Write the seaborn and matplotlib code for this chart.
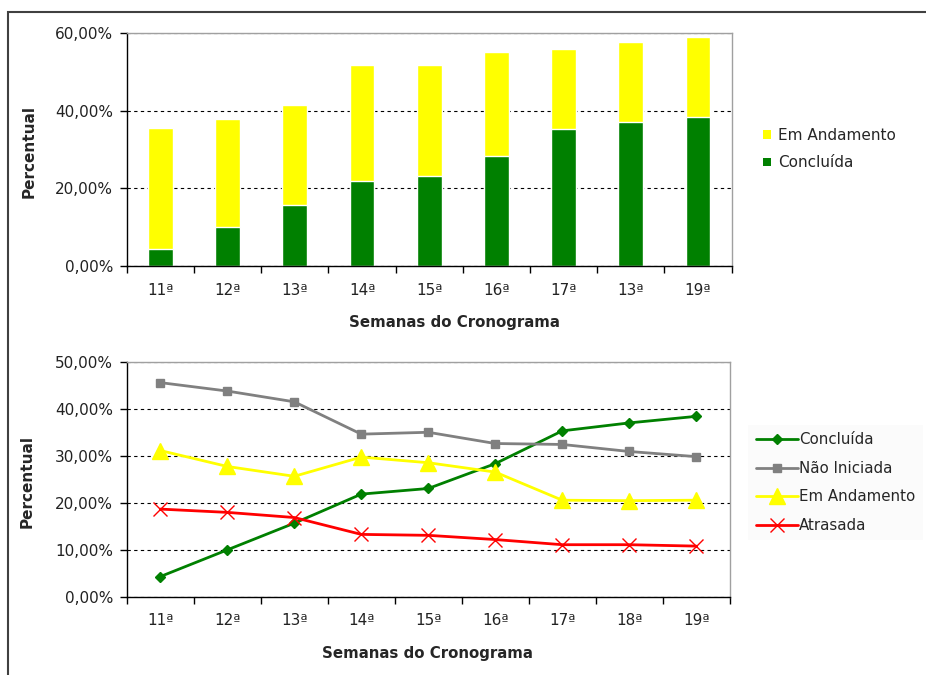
import numpy as np
import matplotlib
matplotlib.use("Agg")
import matplotlib.pyplot as plt
from matplotlib.patches import Patch, Rectangle
from matplotlib.ticker import FuncFormatter, MultipleLocator
import seaborn as sns

# dados (percentuais por semana)
semanas_barras = ["11ª", "12ª", "13ª", "14ª", "15ª", "16ª", "17ª", "13ª", "19ª"]
semanas_linhas = ["11ª", "12ª", "13ª", "14ª", "15ª", "16ª", "17ª", "18ª", "19ª"]

concluida = [4.3, 10.0, 15.7, 21.9, 23.1, 28.4, 35.4, 37.1, 38.5]
nao_iniciada = [45.7, 43.9, 41.6, 34.7, 35.1, 32.7, 32.5, 31.0, 29.9]
em_andamento = [31.2, 27.8, 25.7, 29.8, 28.6, 26.6, 20.6, 20.5, 20.6]
atrasada = [18.7, 18.0, 16.9, 13.3, 13.1, 12.2, 11.1, 11.1, 10.8]

sns.set_style("white")
plt.rcParams["font.family"] = ["DejaVu Sans"]

VERDE = "#008000"
AMARELO = "#FFFF00"
CINZA = "#808080"
VERMELHO = "#FF0000"

pos = np.arange(len(semanas_linhas))
pct = FuncFormatter(lambda v, p: ("%.2f%%" % v).replace(".", ","))

fig = plt.figure(figsize=(9.26, 6.75), dpi=100)
ax1 = fig.add_axes([0.137, 0.606, 0.653, 0.345])
ax2 = fig.add_axes([0.137, 0.116, 0.651, 0.347])

# moldura externa
fig.add_artist(Rectangle((8 / 926, -0.2), 2, 1 - 12.5 / 675 + 0.2, transform=fig.transFigure,
                         fill=False, ec="#404040", lw=1.5, clip_on=False))

# grafico de barras empilhadas
total = np.array(concluida) + np.array(em_andamento)
sns.barplot(x=pos, y=total, color=AMARELO, saturation=1, width=0.37,
            edgecolor="white", linewidth=1, ax=ax1)
sns.barplot(x=pos, y=concluida, color=VERDE, saturation=1, width=0.37,
            edgecolor="white", linewidth=1, ax=ax1)
ax1.set_ylim(0, 60)
ax1.yaxis.set_major_locator(MultipleLocator(20))

# grafico de linhas
series = [
    ("Concluída", concluida, VERDE, "D", 5, 2),
    ("Não Iniciada", nao_iniciada, CINZA, "s", 6, 2),
    ("Em Andamento", em_andamento, AMARELO, "^", 11, 2),
    ("Atrasada", atrasada, VERMELHO, "x", 10, 2),
]
for nome, vals, cor, mk, ms, lw in series:
    sns.lineplot(x=pos, y=vals, color=cor, marker=mk, markersize=ms, linewidth=lw,
                 markeredgecolor=cor, markerfacecolor=cor, markeredgewidth=1,
                 label=nome, ax=ax2)
ax2.set_ylim(0, 50)
ax2.yaxis.set_major_locator(MultipleLocator(10))

for ax, labels in [(ax1, semanas_barras), (ax2, semanas_linhas)]:
    ax.set_xlim(-0.5, len(labels) - 0.5)
    ax.set_xticks(pos)
    ax.set_xticklabels(labels)
    ax.set_xticks(np.arange(-0.5, len(labels)), minor=True)
    ax.tick_params(axis="x", which="major", length=0, pad=12, labelsize=11, colors="#222")
    ax.tick_params(axis="x", which="minor", length=5, width=1, color="black", direction="out", bottom=True)
    ax.tick_params(axis="y", length=5, width=1, color="black", direction="out", left=True,
                   pad=5, labelsize=11, labelcolor="#222")
    ax.yaxis.set_major_formatter(pct)
    ax.grid(axis="y", color="black", linestyle=(0, (3, 3)), linewidth=0.8)
    ax.set_axisbelow(True)
    for s in ["left", "bottom"]:
        ax.spines[s].set_color("black")
        ax.spines[s].set_linewidth(1)
    for s in ["top", "right"]:
        ax.spines[s].set_color("#a0a0a0")
        ax.spines[s].set_linewidth(1)
        ax.spines[s].set_visible(True)
    ax.set_ylabel("Percentual", fontsize=11, fontweight="bold")
    ax.set_xlabel("Semanas do Cronograma", fontsize=10.8, fontweight="bold")

ax1.yaxis.set_label_coords(-0.149, 0.49)
ax1.xaxis.set_label_coords(0.542, -0.21)
ax2.yaxis.set_label_coords(-0.153, 0.49)
ax2.xaxis.set_label_coords(0.498, -0.21)

# legendas
h1 = [Patch(facecolor=AMARELO, edgecolor="none", label="Em Andamento"),
      Patch(facecolor=VERDE, edgecolor="none", label="Concluída")]
fig.legend(handles=h1, loc="center left", bbox_to_anchor=(0.809, 0.779), frameon=False,
           fontsize=11, handlelength=0.5, handleheight=0.5, handletextpad=0.5,
           labelspacing=0.8)

ax2.get_legend().remove()
h2, l2 = ax2.get_legend_handles_labels()
leg = fig.legend(h2, l2, loc="center left", bbox_to_anchor=(0.800, 0.285), frameon=True,
                 fontsize=10.8, handlelength=2.8, handletextpad=0.1, labelspacing=0.9,
                 borderpad=0.5, fancybox=False)
leg.get_frame().set_facecolor("#fafafa")
leg.get_frame().set_edgecolor("none")

fig.savefig("out.png", dpi=100)
